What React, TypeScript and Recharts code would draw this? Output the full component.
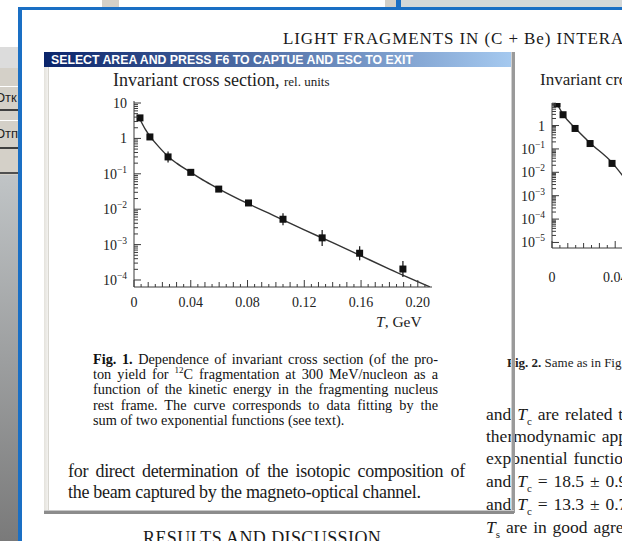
import React from 'react'
import { ComposedChart, Line, Scatter, ErrorBar, XAxis, YAxis } from 'recharts'

const serif = '"Liberation Serif", "Times New Roman", serif'
const sans = '"Liberation Sans", Arial, sans-serif'

// Fig. 1: proton yield, 12C fragmentation at 300 MeV/nucleon
const fig1T = [0.0042, 0.0112, 0.024, 0.04, 0.0597, 0.0807, 0.105, 0.1326, 0.159, 0.1895]
const fig1Sigma = [3.8, 1.1, 0.3, 0.11, 0.037, 0.015, 0.0052, 0.00155, 0.00057, 0.000204]
const fig1ErrLow = [0.4, 0.1, 0.09, 0.01, 0.003, 0.0012, 0.0017, 0.00063, 0.00021, 0.000083]
const fig1ErrHigh = [0.5, 0.12, 0.13, 0.012, 0.004, 0.0015, 0.0025, 0.00105, 0.00033, 0.000139]
// fitted curve (sum of two exponentials)
const fig1FitT = [0.004, 0.008, 0.012, 0.018, 0.024, 0.03, 0.04, 0.05, 0.06, 0.08, 0.1, 0.12, 0.14, 0.16, 0.18, 0.2085]
const fig1FitSigma = [3.6, 1.8, 1.05, 0.55, 0.31, 0.2, 0.11, 0.062, 0.037, 0.0145, 0.0062, 0.0026, 0.00113, 0.00048, 0.000204, 0.000064]

// Fig. 2 (partly visible on the right)
const fig2T = [0.0032, 0.007, 0.0146, 0.0241, 0.038]
const fig2Sigma = [8.4, 2.9, 0.75, 0.17, 0.024]
const fig2FitT = [0.003, 0.007, 0.0146, 0.0241, 0.038, 0.046]
const fig2FitSigma = [9.0, 3.0, 0.78, 0.18, 0.026, 0.0055]

const fig1YMajor = [1e-4, 1e-3, 1e-2, 1e-1, 1, 10]
const fig2YMajor = [1e-5, 1e-4, 1e-3, 1e-2, 1e-1, 1]
const minorSteps = [2, 3, 4, 5, 6, 7, 8, 9]
const xLabels = [0, 0.04, 0.08, 0.12, 0.16, 0.2]

const fig1Points = fig1T.map((t, i) => ({ t, v: fig1Sigma[i], err: [fig1ErrLow[i], fig1ErrHigh[i]] }))
const fig1Fit = fig1FitT.map((t, i) => ({ t, v: fig1FitSigma[i] }))
const fig2Points = fig2T.map((t, i) => ({ t, v: fig2Sigma[i] }))
const fig2Fit = fig2FitT.map((t, i) => ({ t, v: fig2FitSigma[i] }))

const fig1YTicks = fig1YMajor.flatMap((m) => (m === 10 ? [m] : [m, ...minorSteps.map((k) => m * k)]))
const fig2YTicks = fig2YMajor.flatMap((m) => [m, ...minorSteps.map((k) => m * k)])
const fig1XTicks = Array.from({ length: 42 }, (_, i) => +(i * 0.005).toFixed(3))
const fig2XTicks = Array.from({ length: 12 }, (_, i) => +(i * 0.005).toFixed(3))

const captionLines = [
  <><b>Fig. 1.</b> Dependence of invariant cross section (of the pro-</>,
  <>ton yield for <sup style={{ fontSize: 9, lineHeight: 0 }}>12</sup>C fragmentation at 300 MeV/nucleon as a</>,
  <>function of the kinetic energy in the fragmenting nucleus</>,
  <>rest frame. The curve corresponds to data fitting by the</>,
  <>sum of two exponential functions (see text).</>,
]
const leftBody = ['for direct determination of the isotopic composition of', 'the beam captured by the magneto-optical channel.']
const rightBody = [
  <>and <i>T</i><sub style={{ fontSize: 11 }}>c</sub> are related to the</>,
  <>thermodynamic approach</>,
  <>exponential functions</>,
  <>and <i>T</i><sub style={{ fontSize: 11 }}>c</sub> = 18.5 ± 0.9 MeV</>,
  <>and <i>T</i><sub style={{ fontSize: 11 }}>c</sub> = 13.3 ± 0.7 MeV</>,
  <><i>T</i><sub style={{ fontSize: 11 }}>s</sub> are in good agreement</>,
]

function LogYTick(props: any) {
  const { x, y, payload } = props
  const lg = Math.log10(payload.value)
  const p = Math.round(lg)
  const major = Math.abs(lg - p) < 1e-6
  return (
    <g>
      <line x1={x} x2={x + (major ? 7 : 4)} y1={y} y2={y} stroke="#3a3a3a" strokeWidth={1} />
      {major && (
        <text x={x - 7} y={y + 5} textAnchor="end" fontFamily={serif} fontSize={14} fill="#222">
          {p === 0 ? '1' : p === 1 ? '10' : (
            <>
              10<tspan dy={-6} fontSize={9.5}>{'\u2212' + -p}</tspan>
            </>
          )}
        </text>
      )}
    </g>
  )
}

function makeXTick(labelDy: number) {
  return function XTick(props: any) {
    const { x, y, payload } = props
    const k = Math.round(payload.value / 0.005)
    const major = k % 8 === 0
    const len = major ? 7 : k % 2 === 0 ? 5 : 3
    return (
      <g>
        <line x1={x} x2={x} y1={y} y2={y - len} stroke="#3a3a3a" strokeWidth={1} />
        {major && xLabels.some((l) => Math.abs(l - payload.value) < 1e-6) && (
          <text x={x} y={y + labelDy} textAnchor="middle" fontFamily={serif} fontSize={14} fill="#222">
            {payload.value === 0 ? '0' : payload.value.toFixed(2)}
          </text>
        )}
      </g>
    )
  }
}

const Square = (props: any) => {
  const { cx, cy } = props
  return <rect x={cx - 3.5} y={cy - 3.5} width={7} height={7} fill="#111" />
}

function Fig1Chart() {
  return (
    <ComposedChart width={400} height={220} margin={{ top: 6, right: 28, bottom: 0, left: 0 }}>
      <XAxis
        dataKey="t"
        type="number"
        domain={[0, 0.21]}
        allowDataOverflow
        ticks={fig1XTicks}
        interval={0}
        tickSize={0}
        tickMargin={0}
        height={28}
        stroke="#3a3a3a"
        tick={makeXTick(20)}
      />
      <YAxis
        type="number"
        scale="log"
        domain={[6.34e-5, 11.4]}
        allowDataOverflow
        ticks={fig1YTicks}
        interval={0}
        tickSize={0}
        tickMargin={0}
        width={74}
        stroke="#3a3a3a"
        tick={<LogYTick />}
      />
      <Line data={fig1Fit} dataKey="v" type="monotone" stroke="#333" strokeWidth={1.4} dot={false} isAnimationActive={false} />
      <Scatter data={fig1Points} dataKey="v" shape={<Square />} isAnimationActive={false}>
        <ErrorBar dataKey="err" direction="y" width={0} stroke="#222" strokeWidth={1.3} />
      </Scatter>
    </ComposedChart>
  )
}

function Fig2Chart() {
  return (
    <ComposedChart width={400} height={193} margin={{ top: 8, right: 10, bottom: 0, left: 0 }}>
      <XAxis
        dataKey="t"
        type="number"
        domain={[0, 0.2]}
        allowDataOverflow
        ticks={fig2XTicks}
        interval={0}
        tickSize={0}
        tickMargin={0}
        height={40}
        stroke="#3a3a3a"
        tick={makeXTick(34)}
      />
      <YAxis
        type="number"
        scale="log"
        domain={[5.8e-6, 9.2]}
        allowDataOverflow
        ticks={fig2YTicks}
        interval={0}
        tickSize={0}
        tickMargin={0}
        width={74}
        stroke="#3a3a3a"
        tick={<LogYTick />}
      />
      <Line data={fig2Fit} dataKey="v" type="monotone" stroke="#333" strokeWidth={1.4} dot={false} isAnimationActive={false} />
      <Scatter data={fig2Points} dataKey="v" shape={<Square />} isAnimationActive={false} />
    </ComposedChart>
  )
}

const abs = (left: number, top: number, extra: React.CSSProperties = {}): React.CSSProperties => ({
  position: 'absolute',
  left,
  top,
  whiteSpace: 'nowrap',
  ...extra,
})

const bodyText: React.CSSProperties = { fontFamily: serif, fontSize: 18, lineHeight: '20px', color: '#1a1a1a' }
const justLine: React.CSSProperties = { whiteSpace: 'normal', textAlign: 'justify', textAlignLast: 'justify' } as React.CSSProperties

export default function App() {
  return (
    <div style={{ position: 'absolute', left: 0, top: 0, width: 622, height: 541, overflow: 'hidden', background: '#fff' }}>
      {/* desktop behind */}
      <div style={abs(102, 0, { width: 17, height: 7, background: '#d4d0c8' })} />
      <div style={abs(385, 0, { width: 11, height: 7, background: '#d4d0c8' })} />
      <div style={abs(396, 0, { width: 5, height: 7, background: '#1a6fc4' })} />
      <div style={abs(401, 0, { width: 221, height: 7, background: '#d4d8d8' })} />
      <div style={abs(0, 47, { width: 18, height: 21, background: '#dcdcdc' })} />
      <div style={abs(0, 68, { width: 18, height: 107, background: '#d4d0c8' })} />
      <div style={abs(-5, 86, { width: 24, height: 22, borderTop: '1px solid #fff', borderBottom: '2px solid #404040', fontFamily: sans, fontSize: 13, lineHeight: '22px', color: '#222' })}>Отк</div>
      <div style={abs(-5, 120, { width: 24, height: 26, borderTop: '1px solid #fff', borderBottom: '2px solid #404040', fontFamily: sans, fontSize: 13, lineHeight: '26px', color: '#222' })}>Отп</div>
      <div style={abs(0, 172, { width: 18, height: 2, background: '#505050' })} />
      <div style={abs(0, 175, { width: 18, height: 366, background: 'linear-gradient(#c0c4c6, #7a7a7a)' })} />
      <div style={abs(18, 7, { width: 604, height: 3, background: '#1a6fc4' })} />
      <div style={abs(18, 7, { width: 4, height: 534, background: '#1a6fc4' })} />

      {/* page */}
      <div style={abs(283, 29, { ...bodyText, fontSize: 17, letterSpacing: 0.9 })}>LIGHT FRAGMENTS IN (C + Be) INTERACTIONS</div>

      <div style={abs(113, 70, { fontFamily: serif, fontSize: 18, lineHeight: '20px', color: '#222' })}>
        Invariant cross section, <span style={{ fontSize: 13 }}>rel. units</span>
      </div>
      <div style={abs(60, 95)}>
        <Fig1Chart />
      </div>
      <div style={abs(376, 313, { fontFamily: serif, fontSize: 15.5, color: '#222' })}>
        <i>T</i>, GeV
      </div>

      {captionLines.map((line, i) => (
        <div
          key={i}
          style={abs(93, 352 + i * 15.2, {
            width: 345,
            fontFamily: serif,
            fontSize: 14.3,
            lineHeight: '15px',
            color: '#111',
            ...(i < captionLines.length - 1 ? justLine : {}),
          })}
        >
          {line}
        </div>
      ))}

      {leftBody.map((line, i) => (
        <div key={i} style={abs(68, 461 + i * 21, { ...bodyText, width: 397, letterSpacing: -0.3, ...(i === 0 ? justLine : {}) })}>
          {line}
        </div>
      ))}
      <div style={abs(143, 528, { ...bodyText, fontSize: 18, letterSpacing: 0.4 })}>RESULTS AND DISCUSSION</div>

      {/* right column */}
      <div style={abs(540, 70, { fontFamily: serif, fontSize: 17, lineHeight: '20px', color: '#222' })}>
        Invariant cross section, <span style={{ fontSize: 13 }}>rel. units</span>
      </div>
      <div style={abs(478, 95)}>
        <Fig2Chart />
      </div>
      <div style={abs(507, 355, { fontFamily: serif, fontSize: 13, color: '#222' })}>
        <b>Fig. 2.</b> Same as in Fig. 1 for
      </div>
      {rightBody.map((line, i) => (
        <div key={i} style={abs(486, 404 + [0, 22, 44, 67, 90, 113][i], { ...bodyText, fontSize: 17.5, wordSpacing: 1.5 })}>
          {line}
        </div>
      ))}

      {/* capture overlay frame */}
      <div style={abs(44, 52, { width: 470, height: 15, background: 'linear-gradient(90deg, #0a246a, #a6caf0)' })} />
      <div style={abs(51, 52, { fontFamily: sans, fontWeight: 700, fontSize: 12.3, lineHeight: '16px', color: '#fff' })}>
        SELECT AREA AND PRESS F6 TO CAPTUE AND ESC TO EXIT
      </div>
      <div style={abs(44, 67, { width: 4, height: 446, background: 'linear-gradient(90deg, #e4e2dc, #f2f1ee)', borderRight: '1px solid #d8d6d0' })} />
      <div style={abs(511, 52, { width: 3, height: 461, background: '#9a9a9a', borderLeft: '1px solid #d0d0d0' })} />
      <div style={abs(44, 510, { width: 470, height: 3, background: '#8c8c8c', borderTop: '1px solid #c8c8c8' })} />
    </div>
  )
}
